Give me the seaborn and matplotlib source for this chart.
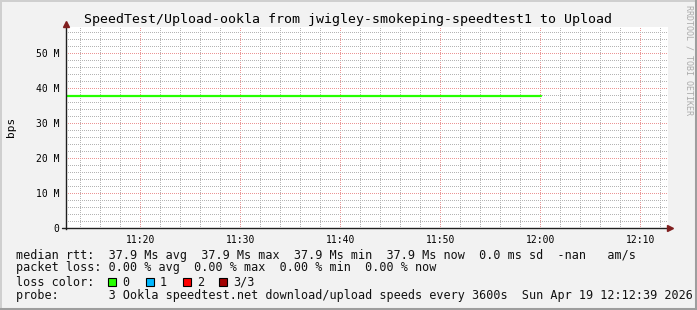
import matplotlib
matplotlib.use("Agg")
import matplotlib.pyplot as plt
import matplotlib.dates as mdates
import matplotlib.ticker as mticker
from matplotlib.patches import Rectangle
import seaborn as sns
import pandas as pd

# ---- data ----
sample_times = ["2026-04-19 11:12:39", "2026-04-19 12:00:00"]
median_bps = [37.9e6, 37.9e6]
x_start = "2026-04-19 11:12:33"
x_end = "2026-04-19 12:12:45"
y_max = 201.5 / 3.5 * 1e6

title = "SpeedTest/Upload-ookla from jwigley-smokeping-speedtest1 to Upload"
legend_rows = [
    "median rtt:  37.9 Ms avg  37.9 Ms max  37.9 Ms min  37.9 Ms now  0.0 ms sd  -nan   am/s",
    "packet loss: 0.00 % avg  0.00 % max  0.00 % min  0.00 % now",
]
loss_labels = ["0", "1", "2", "3/3"]
loss_colors = ["#26ff00", "#00b8ff", "#ff0000", "#a10000"]
probe_row = "probe:       3 Ookla speedtest.net download/upload speeds every 3600s  Sun Apr 19 12:12:39 2026"

df = pd.DataFrame({"time": pd.to_datetime(sample_times), "bps": median_bps})

sns.set_style("white")
plt.rcParams["font.family"] = ["DejaVu Sans Mono", "DejaVu Sans"]

W, H = 697, 310
fig = plt.figure(figsize=(W / 100, H / 100), dpi=100)
fig.patch.set_facecolor("#f2f2f2")

def fx(px):
    return px / W

def fy(py):
    return 1 - py / H

L, R, T, B = 66, 668, 27, 228.5
ax = fig.add_axes([fx(L), fy(B), (R - L) / W, (B - T) / H])
ax.set_facecolor("white")

sns.lineplot(data=df, x="time", y="bps", ax=ax, color="#26ff00", linewidth=1.6,
             drawstyle="steps-post", legend=False)

ax.set_xlim(pd.Timestamp(x_start), pd.Timestamp(x_end))
ax.set_ylim(0, y_max)

ax.xaxis.set_major_locator(mdates.MinuteLocator(byminute=range(0, 60, 10)))
ax.xaxis.set_minor_locator(mdates.MinuteLocator(
    byminute=[m for m in range(0, 60, 2) if m % 10]))
ax.xaxis.set_major_formatter(mdates.DateFormatter("%H:%M"))
ax.yaxis.set_major_locator(mticker.MultipleLocator(10e6))
ax.yaxis.set_minor_locator(mticker.FixedLocator(
    [k * 2e6 for k in range(0, 30) if k % 5]))
ax.yaxis.set_major_formatter(mticker.FuncFormatter(
    lambda v, p: "0" if v == 0 else f"{v/1e6:.0f} M"))

minor_col, major_col = "#b4b4b4", "#eb9595"
ax.grid(True, axis="x", which="minor", color=minor_col, linestyle=(0.5, (1, 1)),
        linewidth=0.72, snap=False)
ax.grid(True, axis="x", which="major", color=major_col, linestyle=(0.5, (1, 1)),
        linewidth=0.72, snap=False)
ax.grid(True, axis="y", which="minor", color=minor_col, linestyle=(0, (1, 1)),
        linewidth=0.72, snap=False)
ax.grid(True, axis="y", which="major", color=major_col, linestyle=(0, (1, 1)),
        linewidth=0.72, snap=False)
ax.set_axisbelow(True)

for s in ["top", "right", "bottom"]:
    ax.spines[s].set_visible(False)
ax.spines["left"].set_color("#1f1f1f")
ax.spines["left"].set_linewidth(1.0)

ax.tick_params(axis="both", which="both", labelsize=7, colors="#1f1f1f", direction="out")
ax.tick_params(axis="x", which="major", length=2, pad=3)
ax.tick_params(axis="x", which="minor", length=2)
ax.tick_params(axis="y", which="major", length=2, pad=3)
ax.tick_params(axis="y", which="minor", length=2)
for lab in ax.get_xticklabels() + ax.get_yticklabels():
    lab.set_color("black")
ax.set_xlabel("")
ax.set_ylabel("")

# x axis line (crisp, on pixel row) and arrows
arrow_col = "#801f1f"
fig.add_artist(plt.Line2D([fx(62), fx(R)], [fy(228), fy(228)], color="#1f1f1f",
                          linewidth=1.0))
fig.add_artist(plt.Line2D([fx(L)], [fy(24)], marker="^", markersize=5, color=arrow_col,
                          linestyle="none"))
fig.add_artist(plt.Line2D([fx(670)], [fy(228)], marker=">", markersize=5, color=arrow_col,
                          linestyle="none"))

# y label
fig.text(fx(11), fy(127), "bps", rotation=90, ha="center", va="center", fontsize=8,
         color="black")

# title
fig.text(fx(348), fy(19), title, ha="center", va="center", fontsize=9.5, color="black")

# watermark
fig.text(fx(689), fy(5), "RRDTOOL / TOBI OETIKER", rotation=270, ha="center", va="top",
         fontsize=6, color="#ababab")

# legend rows
fs = 8.5
tc = "#111111"
fig.text(fx(16), fy(255), legend_rows[0], ha="left", va="center", fontsize=fs, color=tc)
fig.text(fx(16), fy(268), legend_rows[1], ha="left", va="center", fontsize=fs, color=tc)
fig.text(fx(16), fy(282), "loss color:", ha="left", va="center", fontsize=fs, color=tc)
box_x = [108, 146, 183, 219]
for bx, lab, col in zip(box_x, loss_labels, loss_colors):
    fig.add_artist(Rectangle((fx(bx), fy(286)), 8 / W, 8 / H, facecolor=col,
                             edgecolor="black", linewidth=0.8))
    fig.text(fx(bx + 14), fy(282), lab, ha="left", va="center", fontsize=fs, color=tc)
fig.text(fx(16), fy(296), probe_row, ha="left", va="center", fontsize=fs, color=tc)

# frame: shade A top/left, shade B right/bottom
fig.add_artist(plt.Line2D([0, 1], [fy(0.5), fy(0.5)], color="#cfcfcf", linewidth=1.4))
fig.add_artist(plt.Line2D([fx(0.5), fx(0.5)], [0, 1], color="#cfcfcf", linewidth=1.4))
fig.add_artist(plt.Line2D([fx(W - 1.5), fx(W - 1.5)], [0, 1], color="#9e9e9e", linewidth=2.2))
fig.add_artist(plt.Line2D([0, 1], [fy(H - 1.5), fy(H - 1.5)], color="#9e9e9e", linewidth=2.2))

fig.savefig("out.png", dpi=100, facecolor=fig.get_facecolor())
